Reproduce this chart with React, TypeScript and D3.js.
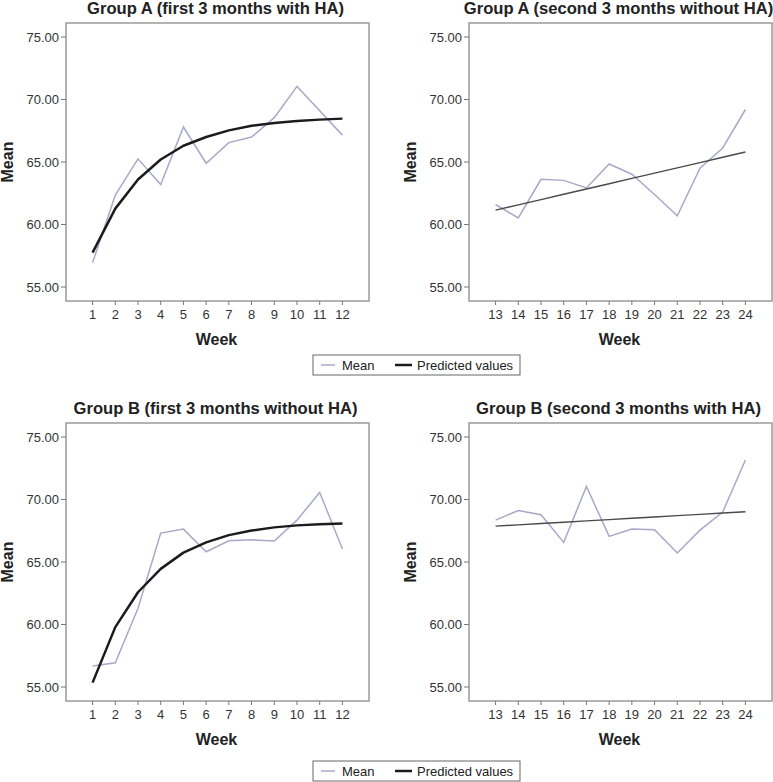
import React from "react";
import * as d3 from "d3";

const weeksFirst = [1, 2, 3, 4, 5, 6, 7, 8, 9, 10, 11, 12];
const weeksSecond = [13, 14, 15, 16, 17, 18, 19, 20, 21, 22, 23, 24];

const meanA1 = [56.95, 62.35, 65.25, 63.2, 67.8, 64.9, 66.55, 67.0, 68.55, 71.05, 69.1, 67.15];
const predA1 = [57.75, 61.27, 63.6, 65.2, 66.3, 67.0, 67.53, 67.9, 68.12, 68.28, 68.39, 68.47];

const meanA2 = [61.6, 60.52, 63.62, 63.53, 62.92, 64.84, 64.02, 62.4, 60.7, 64.5, 66.12, 69.2];
const predA2 = [61.15, 61.57, 61.99, 62.42, 62.84, 63.26, 63.69, 64.11, 64.53, 64.95, 65.38, 65.8];

const meanB1 = [56.68, 56.94, 61.3, 67.31, 67.63, 65.82, 66.7, 66.78, 66.68, 68.35, 70.56, 66.04];
const predB1 = [55.35, 59.79, 62.58, 64.45, 65.75, 66.57, 67.15, 67.52, 67.77, 67.93, 68.02, 68.08];

const meanB2 = [68.35, 69.12, 68.78, 66.57, 71.04, 67.05, 67.63, 67.58, 65.72, 67.55, 69.0, 73.16];
const predB2 = [67.87, 67.97, 68.08, 68.18, 68.29, 68.39, 68.5, 68.6, 68.71, 68.81, 68.92, 69.02];

const yTicks = [55, 60, 65, 70, 75];
const titles = [
  "Group A (first 3 months with HA)",
  "Group A (second 3 months without HA)",
  "Group B (first 3 months without HA)",
  "Group B (second 3 months with HA)",
];
const legendLabels = ["Mean", "Predicted values"];

const FONT = "'Liberation Sans', Arial, sans-serif";
const MEAN_COLOR = "#a6aac8";

type PanelProps = {
  left: number;
  top: number;
  width: number;
  height: number;
  title: string;
  weeks: number[];
  mean: number[];
  pred: number[];
  curved: boolean;
};

function Panel({ left, top, width, height, title, weeks, mean, pred, curved }: PanelProps) {
  const x = d3
    .scaleLinear()
    .domain([weeks[0] - 1.17, weeks[weeks.length - 1] + 1.17])
    .range([left, left + width]);
  const y = d3.scaleLinear().domain([53.88, 76.12]).range([top + height, top]);
  const line = d3
    .line<number>()
    .x((_, i) => x(weeks[i]))
    .y((d) => y(d));
  const cx = left + width / 2;
  return (
    <g>
      <text x={cx - 2} y={top - 9.5} textAnchor="middle" fontFamily={FONT} fontWeight="bold" fontSize={16.6} fill="#222">
        {title}
      </text>
      <rect x={left} y={top} width={width} height={height} fill="#fff" stroke="#9a9a9a" strokeWidth={1.5} />
      {yTicks.map((t) => (
        <g key={t}>
          <line x1={left - 5} x2={left} y1={y(t)} y2={y(t)} stroke="#777" strokeWidth={1} />
          <text x={left - 7} y={y(t) + 4.5} textAnchor="end" fontFamily={FONT} fontSize={13} fill="#333">
            {t.toFixed(2)}
          </text>
        </g>
      ))}
      {weeks.map((w) => (
        <g key={w}>
          <line x1={x(w)} x2={x(w)} y1={top + height} y2={top + height + 4} stroke="#777" strokeWidth={1} />
          <text x={x(w)} y={top + height + 18} textAnchor="middle" fontFamily={FONT} fontSize={13} fill="#333">
            {w}
          </text>
        </g>
      ))}
      <text x={cx - 1} y={top + height + 44} textAnchor="middle" fontFamily={FONT} fontWeight="bold" fontSize={16} fill="#222">
        Week
      </text>
      <text
        transform={`translate(${left - 53},${top + height / 2}) rotate(-90)`}
        textAnchor="middle"
        fontFamily={FONT}
        fontWeight="bold"
        fontSize={16}
        fill="#222"
      >
        Mean
      </text>
      <path d={line(mean) || ""} fill="none" stroke={MEAN_COLOR} strokeWidth={1.5} />
      <path
        d={line(pred) || ""}
        fill="none"
        stroke={curved ? "#1c1c1c" : "#4a4a4a"}
        strokeWidth={curved ? 2.5 : 1.5}
        strokeLinejoin="round"
      />
    </g>
  );
}

function Legend({ left, top }: { left: number; top: number }) {
  return (
    <g>
      <rect x={left} y={top} width={207} height={20} fill="#fff" stroke="#666" strokeWidth={1} />
      <line x1={left + 8} x2={left + 22} y1={top + 10} y2={top + 10} stroke={MEAN_COLOR} strokeWidth={1.5} />
      <text x={left + 29} y={top + 14.5} fontFamily={FONT} fontSize={13} fill="#222">
        {legendLabels[0]}
      </text>
      <line x1={left + 82} x2={left + 99} y1={top + 10} y2={top + 10} stroke="#1c1c1c" strokeWidth={2.5} />
      <text x={left + 104} y={top + 14.5} fontFamily={FONT} fontSize={13} fill="#222">
        {legendLabels[1]}
      </text>
    </g>
  );
}

export default function App() {
  return (
    <svg width={773} height={782} style={{ position: "absolute", left: 0, top: 0 }}>
      <rect width={773} height={782} fill="#fff" />
      <Panel left={66} top={23} width={303} height={278} title={titles[0]} weeks={weeksFirst} mean={meanA1} pred={predA1} curved />
      <Panel left={469} top={23} width={303} height={278} title={titles[1]} weeks={weeksSecond} mean={meanA2} pred={predA2} curved={false} />
      <Legend left={313} top={355} />
      <Panel left={66} top={423} width={303} height={278} title={titles[2]} weeks={weeksFirst} mean={meanB1} pred={predB1} curved />
      <Panel left={469} top={423} width={303} height={278} title={titles[3]} weeks={weeksSecond} mean={meanB2} pred={predB2} curved={false} />
      <Legend left={313} top={761} />
    </svg>
  );
}
